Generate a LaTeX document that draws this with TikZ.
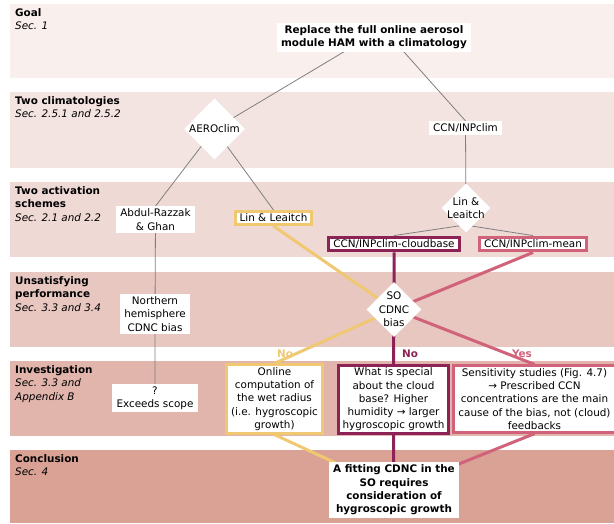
\documentclass[tikz,border=0pt]{standalone}
\usepackage{fontspec}
\setmainfont{DejaVu Sans}
\usetikzlibrary{shapes.geometric}

\definecolor{bandA}{HTML}{F9EFED}
\definecolor{bandB}{HTML}{F4E4E1}
\definecolor{bandC}{HTML}{EFD9D5}
\definecolor{bandD}{HTML}{E8C7C1}
\definecolor{bandE}{HTML}{E1B4AC}
\definecolor{bandF}{HTML}{D9A295}
\definecolor{linkgray}{HTML}{7F7F7F}
\definecolor{aeroyellow}{HTML}{F0C872}
\definecolor{cbpurple}{HTML}{8C2256}
\definecolor{meanpink}{HTML}{D0627A}

\newcommand{\diagfont}{\fontsize{10.4}{13.3}\selectfont}

\pgfdeclarelayer{bands}
\pgfdeclarelayer{links}
\pgfsetlayers{bands,links,main}

\begin{document}
\begin{tikzpicture}[x=1pt,y=-1pt,font=\diagfont,
  box/.style={fill=white,inner xsep=4.5pt,inner ysep=2.5pt,align=center},
  framed/.style={box,draw=#1,line width=3pt},
  decision/.style={diamond,aspect=1,fill=white,inner sep=-2.5pt,align=center},
  bandlabel/.style={anchor=north west,inner sep=0pt,align=left},
  link/.style={draw=linkgray,line width=0.8pt},
  flow/.style={draw=#1,line width=3pt},
  answer/.style={text=#1,font=\diagfont\bfseries}]
\useasboundingbox (0,0) rectangle (614,523);

% bands
\begin{pgfonlayer}{bands}
\fill[bandA] (10,4) rectangle (614,78);
\fill[bandB] (10,92) rectangle (614,168);
\fill[bandC] (10,182) rectangle (614,257);
\fill[bandD] (10,272) rectangle (614,347);
\fill[bandE] (10,361) rectangle (614,436);
\fill[bandF] (10,450) rectangle (614,523);
\end{pgfonlayer}

\node[bandlabel] (goallabel) at (15,8) {\textbf{Goal}\\\textit{Sec. 1}};
\node[bandlabel] (climlabel) at (15,96.5) {\textbf{Two climatologies}\\\textit{Sec. 2.5.1 and 2.5.2}};
\node[bandlabel] (actlabel) at (15,186.5) {\textbf{Two activation}\\\textbf{schemes}\\\textit{Sec. 2.1 and 2.2}};
\node[bandlabel] (perflabel) at (15,276.5) {\textbf{Unsatisfying}\\\textbf{performance}\\\textit{Sec. 3.3 and 3.4}};
\node[bandlabel] (invlabel) at (15,365.5) {\textbf{Investigation}\\\textit{Sec. 3.3 and}\\\textit{Appendix B}};
\node[bandlabel] (conclabel) at (15,454.5) {\textbf{Conclusion}\\\textit{Sec. 4}};

% nodes
\node[box,font=\diagfont\bfseries] (goal) at (374,37.5) {Replace the full online aerosol\\module HAM with a climatology};
\node[decision,inner sep=0.5pt] (aeroclim) at (214.5,129) {AEROclim};
\node[box] (ccninp) at (465.5,128) {CCN/INPclim};
\node[box] (abdul) at (155.5,219.5) {Abdul-Razzak\\\& Ghan};
\node[framed=aeroyellow] (linaero) at (273.5,218) {Lin \& Leaitch};
\node[decision] (lininp) at (466,208) {Lin \&\\Leaitch};
\node[framed=cbpurple] (cloudbase) at (394,244) {CCN/INPclim-cloudbase};
\node[framed=meanpink] (mean) at (533,244) {CCN/INPclim-mean};
\node[box] (nhbias) at (155,314) {Northern\\hemisphere\\CDNC bias};
\node[decision] (sobias) at (394,309.5) {SO\\CDNC\\bias};
\node[box] (scope) at (155,398) {?\\Exceeds scope};
\node[framed=aeroyellow] (wetradius) at (274.5,399) {Online\\computation of\\the wet radius\\(i.e. hygroscopic\\growth)};
\node[framed=cbpurple] (special) at (393.5,399.5) {What is special\\about the cloud\\base? Higher\\humidity → larger\\hygroscopic growth};
\node[framed=meanpink] (sensitivity) at (534.5,399) {Sensitivity studies (Fig. 4.7)\\→ Prescribed CCN\\concentrations are the main\\cause of the bias, not (cloud)\\feedbacks};
\node[box,font=\diagfont\bfseries] (conclusion) at (394,490) {A fitting CDNC in the\\SO requires\\consideration of\\hygroscopic growth};

\node[answer=aeroyellow] (noaero) at (285,354) {No};
\node[answer=cbpurple] (nocloudbase) at (410,354) {No};
\node[answer=meanpink] (yesmean) at (522,354) {Yes};

% connectors
\coordinate (goalfork) at ([shift={(9,-9)}]goal.center);
\coordinate (linfork) at ([shift={(-1,17)}]lininp.center);
\begin{pgfonlayer}{links}
\draw[link] (goalfork) -- (aeroclim.center);
\draw[link] (goalfork) -- (ccninp.north);
\draw[link] (aeroclim.center) -- (abdul.north);
\draw[link] (aeroclim.center) -- (linaero.north);
\draw[link] (ccninp.center) -- (lininp.center);
\draw[link] (linfork) -- (cloudbase.north);
\draw[link] (linfork) -- (mean.north);
\draw[link] (abdul.center) -- (nhbias.center) -- (scope.center);
\draw[flow=aeroyellow] (linaero.south) -- (sobias.center) -- (wetradius.north);
\draw[flow=aeroyellow] (wetradius.south) -- (conclusion.center);
\draw[flow=cbpurple] (cloudbase.south) -- (sobias.center) -- (special.north);
\draw[flow=cbpurple] (special.south) -- (conclusion.center);
\draw[flow=meanpink] (mean.south) -- (sobias.center) -- (sensitivity.north);
\draw[flow=meanpink] (sensitivity.south) -- (conclusion.center);
\end{pgfonlayer}
\end{tikzpicture}
\end{document}
